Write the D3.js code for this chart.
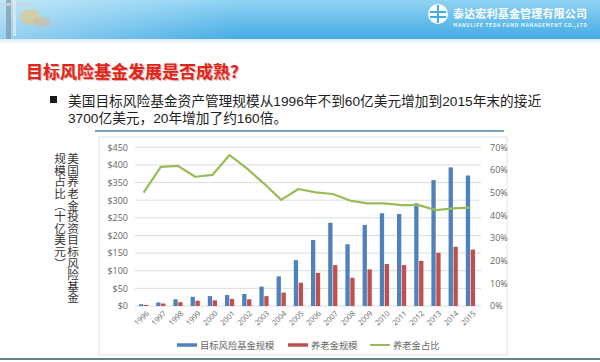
<!DOCTYPE html>
<html lang="zh">
<head>
<meta charset="UTF-8">
<title>目标风险基金发展是否成熟？</title>
<script src="https://cdn.jsdelivr.net/npm/d3@7/dist/d3.min.js"></script>
<style>
  body { margin: 0; background: #fff; }
  svg { display: block; font-family: "Noto Sans CJK SC", "Noto Sans", sans-serif; }
</style>
</head>
<body>
<script>
  // data
  var years = ["1996","1997","1998","1999","2000","2001","2002","2003","2004","2005",
               "2006","2007","2008","2009","2010","2011","2012","2013","2014","2015"];
  var fundSize = [5, 10, 19, 26, 28, 31, 34, 55, 84, 130, 187, 236, 175, 230, 263, 261, 291, 357, 393, 370];
  var pensionSize = [3, 7, 11, 15, 16, 20, 19, 28, 38, 66, 94, 116, 80, 104, 119, 116, 128, 151, 168, 160];
  var pensionShare = [0.50, 0.614, 0.618, 0.57, 0.578, 0.666, 0.607, 0.54, 0.468, 0.516,
                      0.501, 0.494, 0.465, 0.453, 0.453, 0.445, 0.445, 0.423, 0.431, 0.434];
  var leftTicks = [0, 50, 100, 150, 200, 250, 300, 350, 400, 450];
  var rightTicks = [0, 0.1, 0.2, 0.3, 0.4, 0.5, 0.6, 0.7];
  var legendNames = ["目标风险基金规模", "养老金规模", "养老金占比"];

  var w = 600, h = 362;
  var blue = "#4f81bd", red = "#c0504d", green = "#9bbb59";

  var svg = d3.select("body").append("svg")
    .attr("width", w)
    .attr("height", h);

  // ---- header banner ----
  var defs = svg.append("defs");
  var g1 = defs.append("linearGradient").attr("id", "ban").attr("x1", 0).attr("y1", 0).attr("x2", 0).attr("y2", 1);
  g1.append("stop").attr("offset", "0%").attr("stop-color", "#8fd3f3");
  g1.append("stop").attr("offset", "100%").attr("stop-color", "#44ace4");
  var g2 = defs.append("linearGradient").attr("id", "ban2").attr("x1", 0).attr("y1", 0).attr("x2", 1).attr("y2", 0);
  g2.append("stop").attr("offset", "0%").attr("stop-color", "#ffffff").attr("stop-opacity", 0.45);
  g2.append("stop").attr("offset", "40%").attr("stop-color", "#ffffff").attr("stop-opacity", 0);
  var g3 = defs.append("linearGradient").attr("id", "sep").attr("x1", 0).attr("y1", 0).attr("x2", 0).attr("y2", 1);
  g3.append("stop").attr("offset", "0%").attr("stop-color", "#dcebf3");
  g3.append("stop").attr("offset", "100%").attr("stop-color", "#ffffff");

  svg.append("rect").attr("x", 0).attr("y", 0).attr("width", w).attr("height", 39).attr("fill", "url(#ban)");
  svg.append("rect").attr("x", 0).attr("y", 0).attr("width", w).attr("height", 39).attr("fill", "url(#ban2)");
  svg.append("rect").attr("x", 0).attr("y", 39).attr("width", w).attr("height", 5).attr("fill", "url(#sep)");

  // decorative picture at left of banner
  svg.append("rect").attr("x", 6).attr("y", 0).attr("width", 5).attr("height", 39).attr("fill", "#7e98a6").attr("opacity", 0.7);
  svg.append("rect").attr("x", 0).attr("y", 3).attr("width", 30).attr("height", 3).attr("fill", "#c9d6dc").attr("opacity", 0.8);
  svg.append("rect").attr("x", 13).attr("y", 0).attr("width", 3).attr("height", 36).attr("fill", "#dfe8ec").attr("opacity", 0.8);
  svg.append("ellipse").attr("cx", 30).attr("cy", 17).attr("rx", 10).attr("ry", 8).attr("fill", "#e8c77a").attr("opacity", 0.6);
  svg.append("ellipse").attr("cx", 42).attr("cy", 22).attr("rx", 9).attr("ry", 5).attr("fill", "#e4b38a").attr("opacity", 0.5);

  // logo
  var logo = svg.append("g");
  logo.append("circle").attr("cx", 438).attr("cy", 14).attr("r", 10).attr("fill", "#fff");
  logo.append("rect").attr("x", 430).attr("y", 11).attr("width", 16).attr("height", 2).attr("fill", "#44ace4");
  logo.append("rect").attr("x", 437).attr("y", 5).attr("width", 2).attr("height", 18).attr("fill", "#44ace4");
  logo.append("rect").attr("x", 430).attr("y", 16).attr("width", 16).attr("height", 2).attr("fill", "#44ace4");
  logo.append("text").attr("x", 453).attr("y", 18)
    .attr("font-size", 11).attr("font-weight", "bold").attr("fill", "#fff")
    .attr("textLength", 134).text("泰达宏利基金管理有限公司");
  logo.append("text").attr("x", 453).attr("y", 26.5)
    .attr("font-size", 5).attr("font-weight", "bold").attr("fill", "#eaf6fc")
    .attr("textLength", 134).text("MANULIFE TEDA FUND MANAGEMENT CO.,LTD");

  // ---- title and bullet ----
  svg.append("text").attr("x", 26).attr("y", 77.5)
    .attr("font-size", 17).attr("font-weight", "bold").attr("fill", "#e1251b")
    .style("text-shadow", "1px 1px 1px rgba(120,0,0,0.35)")
    .text("目标风险基金发展是否成熟？");

  svg.append("rect").attr("x", 50).attr("y", 96).attr("width", 7).attr("height", 7).attr("fill", "#1a1a1a");
  svg.append("text").attr("x", 68).attr("y", 106)
    .attr("font-size", 13.7).attr("fill", "#222")
    .attr("font-family", "Liberation Sans, Noto Sans CJK SC, sans-serif")
    .text("美国目标风险基金资产管理规模从1996年不到60亿美元增加到2015年末的接近");
  svg.append("text").attr("x", 68).attr("y", 122.8)
    .attr("font-size", 13.7).attr("fill", "#222")
    .attr("font-family", "Liberation Sans, Noto Sans CJK SC, sans-serif")
    .text("3700亿美元，20年增加了约160倍。");

  // ---- chart frame ----
  svg.append("line").attr("x1", 95).attr("x2", 504).attr("y1", 131).attr("y2", 131)
    .attr("stroke", "#4a87b0").attr("stroke-width", 1.5);
  svg.append("rect").attr("x", 99).attr("y", 137).attr("width", 408).attr("height", 218)
    .attr("fill", "none").attr("stroke", "#e2e2e2");
  svg.append("line").attr("x1", 0).attr("x2", w).attr("y1", 359).attr("y2", 359)
    .attr("stroke", "#2f5e68").attr("stroke-width", 1.5);

  // ---- scales ----
  var x = d3.scaleBand().domain(years).range([135, 479]);
  var yL = d3.scaleLinear().domain([0, 450]).range([306, 147.3]);
  var yR = d3.scaleLinear().domain([0, 0.7]).range([306, 147.3]);

  // gridlines
  svg.append("g").selectAll("line").data(leftTicks).enter().append("line")
    .attr("x1", 135).attr("x2", 481)
    .attr("y1", function(d) { return yL(d); })
    .attr("y2", function(d) { return yL(d); })
    .attr("stroke", "#dcdcdc").attr("stroke-width", 1);

  // left axis
  var axL = svg.append("g").attr("transform", "translate(128,0)")
    .call(d3.axisLeft(yL).tickValues(leftTicks).tickSize(0).tickFormat(function(d) { return "$" + d; }));
  axL.select(".domain").remove();
  axL.selectAll("text").attr("font-size", 9).attr("fill", "#666").attr("font-family", "Open Sans, sans-serif").attr("dx", 3);

  // right axis
  var axR = svg.append("g").attr("transform", "translate(487,0)")
    .call(d3.axisRight(yR).tickValues(rightTicks).tickSize(0).tickFormat(d3.format(".0%")));
  axR.select(".domain").remove();
  axR.selectAll("text").attr("font-size", 9).attr("fill", "#666").attr("font-family", "Open Sans, sans-serif");

  // x axis
  var axX = svg.append("g").attr("transform", "translate(0,306)")
    .call(d3.axisBottom(x).tickSize(0));
  axX.select(".domain").remove();
  axX.selectAll("text")
    .attr("font-size", 7.5).attr("fill", "#666").attr("font-family", "Open Sans, sans-serif")
    .attr("text-anchor", "end")
    .attr("transform", "translate(4,6) rotate(-45)")
    .attr("dy", "0.35em").attr("y", 0).attr("x", 0);

  // bars
  var bw = 4.3;
  svg.append("g").selectAll("rect").data(fundSize).enter().append("rect")
    .attr("x", function(d, i) { return x(years[i]) + x.bandwidth() / 2 - bw - 0.3; })
    .attr("y", function(d) { return yL(d); })
    .attr("width", bw)
    .attr("height", function(d) { return yL(0) - yL(d); })
    .attr("fill", blue);
  svg.append("g").selectAll("rect").data(pensionSize).enter().append("rect")
    .attr("x", function(d, i) { return x(years[i]) + x.bandwidth() / 2 + 0.3; })
    .attr("y", function(d) { return yL(d); })
    .attr("width", bw)
    .attr("height", function(d) { return yL(0) - yL(d); })
    .attr("fill", red);

  // share line
  var line = d3.line()
    .x(function(d, i) { return x(years[i]) + x.bandwidth() / 2; })
    .y(function(d) { return yR(d); });
  svg.append("path").datum(pensionShare)
    .attr("d", line)
    .attr("fill", "none").attr("stroke", green).attr("stroke-width", 2.2)
    .attr("stroke-linejoin", "round");

  // vertical axis title, two columns
  svg.append("text").attr("x", 73).attr("y", 153)
    .style("writing-mode", "vertical-rl")
    .attr("font-size", 11.6).attr("fill", "#333")
    .text("美国养老金投资目标风险基金");
  svg.append("text").attr("x", 60).attr("y", 153)
    .style("writing-mode", "vertical-rl")
    .attr("font-size", 11.6).attr("fill", "#333")
    .text("规模占比（十亿美元）");

  // legend
  var legX = [177, 288, 370];
  var legColor = [blue, red, green];
  var leg = svg.append("g");
  legendNames.forEach(function(n, i) {
    leg.append("line")
      .attr("x1", legX[i]).attr("x2", legX[i] + 20).attr("y1", 345).attr("y2", 345)
      .attr("stroke", legColor[i]).attr("stroke-width", i < 2 ? 3.5 : 2);
    leg.append("text").attr("x", legX[i] + 23).attr("y", 348.5)
      .attr("font-size", 9.3).attr("fill", "#666")
      .text(n);
  });
</script>
</body>
</html>
